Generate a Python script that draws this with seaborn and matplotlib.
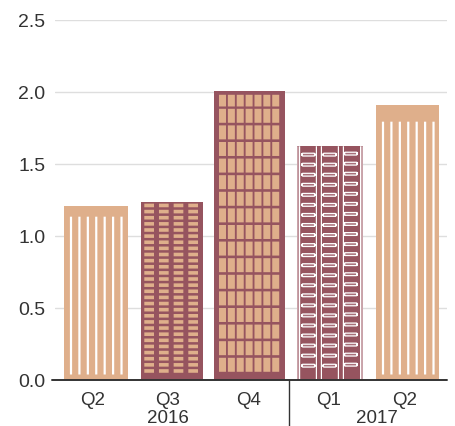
import matplotlib
matplotlib.use("Agg")
import matplotlib.pyplot as plt
import pandas as pd
import seaborn as sns
from matplotlib.patches import FancyBboxPatch, Rectangle

# data
periods = ["2016 Q2", "2016 Q3", "2016 Q4", "2017 Q1", "2017 Q2"]
quarters = ["Q2", "Q3", "Q4", "Q1", "Q2"]
values = [1.205, 1.235, 2.005, 1.62, 1.905]
years = ["2016", "2017"]
y_ticks = [0, 0.5, 1.0, 1.5, 2.0, 2.5]

PEACH = "#DFAF8B"
DARK = "#96545F"
bar_colors = [PEACH, DARK, DARK, DARK, PEACH]
TEXT = "#333333"

W, H = 456, 427
LEFT, RIGHT, TOP, BOTTOM = 55, 447, 20.5, 380.5
PX_X = 5 / (RIGHT - LEFT)
PX_Y = 2.5 / (BOTTOM - TOP)


def to_x(px):
    return (px - LEFT) * PX_X - 0.5


def rect(ax, bar, x, y, w, h, color):
    # x, y are pixels from the bar's top left corner
    top = bar.get_y() + bar.get_height()
    ax.add_patch(Rectangle((bar.get_x() + x * PX_X, top - (y + h) * PX_Y),
                           w * PX_X, h * PX_Y, fc=color, ec="none", zorder=3,
                           snap=False))


def stripes(ax, bar, start):
    bar_h = bar.get_height() / PX_Y
    for i in range(7):
        rect(ax, bar, 5.9 + i * 8.42, start, 2.2, bar_h - start - 5, "white")


def slats(ax, bar):
    for col in range(4):
        for row in range(28):
            rect(ax, bar, 3.3 + col * 14.67, 2 + row * 6.13, 9.7, 3.6, PEACH)


def panes(ax, bar):
    for col in range(7):
        left = 5 + col * 8.87
        rect(ax, bar, left, 4, 7, 11.7, PEACH)
        for row in range(16):
            rect(ax, bar, left, 18 + row * 16.6, 7, 14, PEACH)


def pills(ax, bar):
    bar_w = bar.get_width() / PX_X
    bar_h = bar.get_height() / PX_Y
    rect(ax, bar, 0, 0, 1.8, bar_h, "#C9A3AA")
    rect(ax, bar, bar_w - 1.8, 0, 1.8, bar_h, "#C9A3AA")
    for x in [2.0, 18.8, 23.8, 40.8, 45.8, 63.0]:
        rect(ax, bar, x, 0, 1.2, bar_h, "white")
    top = bar.get_y() + bar.get_height()
    for col, shift in enumerate([0, 0, -1]):
        for row in range(22):
            cy = 8.4 + row * 10.05 + shift
            ax.add_patch(FancyBboxPatch(
                (bar.get_x() + (5.0 + col * 21.2) * PX_X, top - (cy + 1.4) * PX_Y),
                12.8 * PX_X, 2.8 * PX_Y,
                boxstyle=f"round,pad=0,rounding_size={1.4 * PX_Y}",
                mutation_aspect=PX_X / PX_Y,
                fc="#A8707A", ec="white", lw=0.9, zorder=3, snap=False))


sns.set_style("white")
plt.rcParams["font.family"] = ["Liberation Sans", "DejaVu Sans"]

df = pd.DataFrame({"period": periods, "value": values})

fig = plt.figure(figsize=(W / 100, H / 100), dpi=100)
ax = fig.add_axes([LEFT / W, 1 - BOTTOM / H, (RIGHT - LEFT) / W, (BOTTOM - TOP) / H])

sns.barplot(data=df, x="period", y="value", hue="period", palette=bar_colors,
            order=periods, hue_order=periods, dodge=False, legend=False,
            saturation=1, ax=ax, zorder=2)
ax.set_xlim(-0.5, 4.5)
ax.set_ylim(0, 2.5)

# the bars in the picture do not share one width
bar_spans = [(64, 128), (141, 203), (214, 285), (297, 363), (376, 439)]
bars = list(ax.patches)
for bar, (x0, x1) in zip(bars, bar_spans):
    bar.set_x(to_x(x0))
    bar.set_width(to_x(x1) - to_x(x0))
    bar.set_linewidth(0)

stripes(ax, bars[0], 10.7)
slats(ax, bars[1])
panes(ax, bars[2])
pills(ax, bars[3])
stripes(ax, bars[4], 16.5)

ax.set_xlabel("")
ax.set_ylabel("")
ax.set_yticks(y_ticks)
ax.set_yticklabels([f"{v:.1f}" for v in y_ticks])
ax.set_xticks([to_x(p) for p in [93, 168, 249, 329, 405]])
ax.set_xticklabels(quarters)
ax.tick_params(axis="x", length=0, pad=8, labelsize=13.5, labelcolor=TEXT)
ax.tick_params(axis="y", length=0, pad=7, labelsize=14, labelcolor=TEXT)

ax.set_axisbelow(True)
ax.yaxis.grid(True, color="#DEDEDE", lw=1)
ax.xaxis.grid(False)
sns.despine(ax=ax, left=True, top=True, right=True, bottom=True)

# zero line runs a little past the grid on the left
ax.plot([to_x(52), to_x(447)], [0, 0], color=TEXT, lw=1.4, clip_on=False, zorder=4)

# divider between the years
trans = ax.get_xaxis_transform()
ax.plot([to_x(288.5)] * 2, [0, -47 / (BOTTOM - TOP)], color=TEXT, lw=1,
        transform=trans, clip_on=False)

for year, px in zip(years, [168, 377]):
    ax.text(to_x(px), -42.5 / (BOTTOM - TOP), year, transform=trans, ha="center",
            va="baseline", fontsize=13.5, color=TEXT)

fig.savefig("out.png", dpi=100)
